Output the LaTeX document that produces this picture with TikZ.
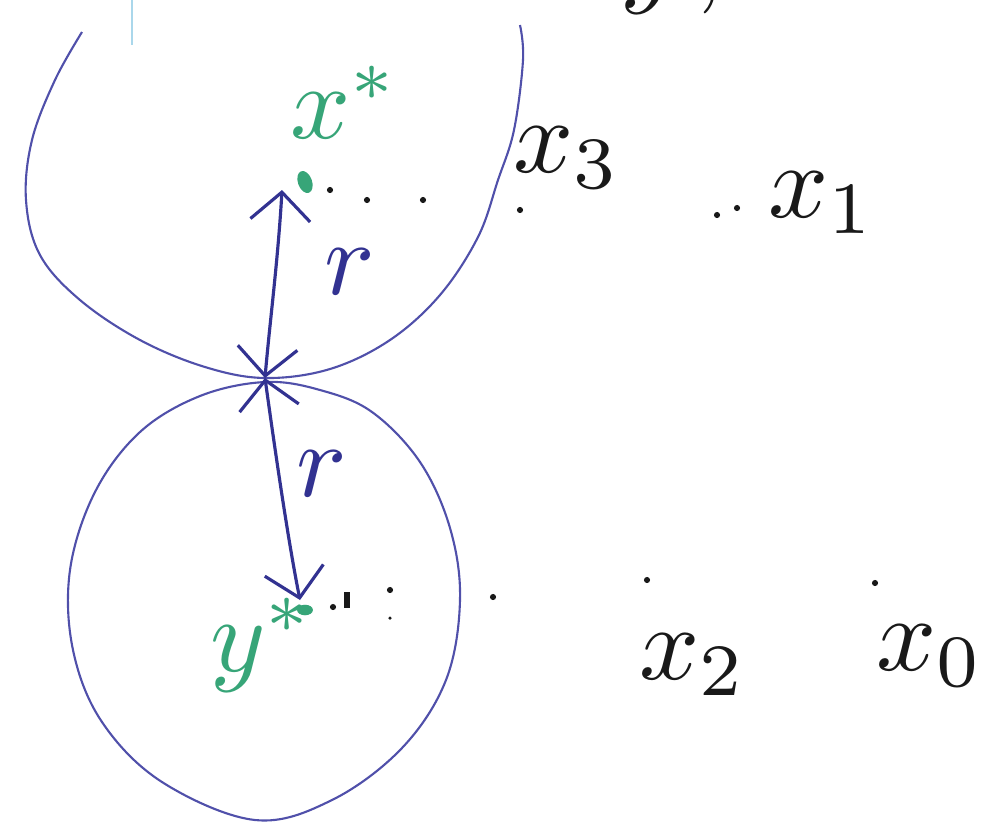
\documentclass[tikz,border=0pt]{standalone}
\usetikzlibrary{arrows.meta,shapes.geometric}
\definecolor{ink}{RGB}{50,50,145}
\definecolor{inkl}{RGB}{80,80,170}
\definecolor{grn}{RGB}{55,165,120}
\definecolor{pen}{RGB}{25,25,25}
\definecolor{faint}{RGB}{170,215,235}
\begin{document}
\begin{tikzpicture}[x=0.02cm,y=-0.02cm,
  circ/.style={inkl, line width=1.2pt},
  tipb/.tip={Straight Barb[length=16pt,width=34pt,line width=1.8pt]},
  arr/.style={ink, line width=1.8pt, tipb-tipb},
  lab/.style={scale=6, text=pen, inner sep=0pt},
  glab/.style={lab, text=grn},
  speck/.style={circle, fill=pen, inner sep=0pt, minimum size=3.5pt},
  gspeck/.style={ellipse, fill=grn, inner sep=0pt, minimum width=8pt, minimum height=13pt}]
\useasboundingbox (0,0) rectangle (990,826);
\fill[white] (0,0) rectangle (990,826);
\begin{scope}
\clip (0,0) rectangle (990,826);
% faint mark
\draw[faint, line width=1pt] (132,0) -- (132,45);
% top circle
\draw[circ] plot[smooth, tension=0.6] coordinates {(82,32) (55,80) (32,140) (26,200) (40,255) (80,300) (140,340) (205,367) (265,378) (330,369) (390,340) (440,295) (478,237) (498,180) (514,130) (523,60) (520,25)};
% bottom circle
\draw[circ] plot[smooth cycle, tension=0.6] coordinates {(265,382) (200,396) (140,432) (95,492) (70,570) (73,650) (102,722) (162,782) (255,820) (332,800) (402,748) (446,680) (460,600) (450,528) (420,462) (372,412) (320,390)};
% points
\coordinate (xs) at (282,190);
\coordinate (t) at (265,378);
\coordinate (ys) at (300,600);
\node[gspeck, rotate=20] (xsd) at (305,182) {};
\node[ellipse, fill=grn, inner sep=0pt, minimum width=9pt, minimum height=6pt] (ysd) at (305,610) {};
% arrows
\draw[arr] (xs) .. controls (278,260) and (270,320) .. (t);
\draw[arr] (t) .. controls (275,450) and (288,540) .. (ys);
% r labels
\node[lab, text=ink] (r1) at (350,272) {$r$};
\node[lab, text=ink] (r2) at (322,474) {$r$};
% green labels
\node[glab] (xl) at (345,102) {$x^*$};
\node[glab] (yl) at (262,645) {$y^*$};
% black labels
\node[lab] (x3) at (567,158) {$x_3$};
\node[lab] (x1) at (822,203) {$x_1$};
\node[lab] (x2) at (693,665) {$x_2$};
\node[lab] (x0) at (930,656) {$x_0$};
\node[lab, anchor=south] (top) at (672,16) {$y$\,,};
% specks
\node[speck] (p1) at (330,190) {};
\node[speck] (p2) at (367,200) {};
\node[speck] (p3) at (423,200) {};
\node[speck] (p4) at (520,210) {};
\node[speck] (p5) at (717,215) {};
\node[speck] (p6) at (737,208) {};
\node[speck] (q1) at (333,607) {};
\node[speck, minimum height=9pt, minimum width=3pt, rectangle] (q2) at (347,600) {};
\node[speck] (q3) at (390,590) {};
\node[speck, minimum size=2pt] (q4) at (390,618) {};
\node[speck] (q5) at (493,597) {};
\node[speck] (q6) at (647,580) {};
\node[speck] (q7) at (875,583) {};
\end{scope}
\end{tikzpicture}
\end{document}
